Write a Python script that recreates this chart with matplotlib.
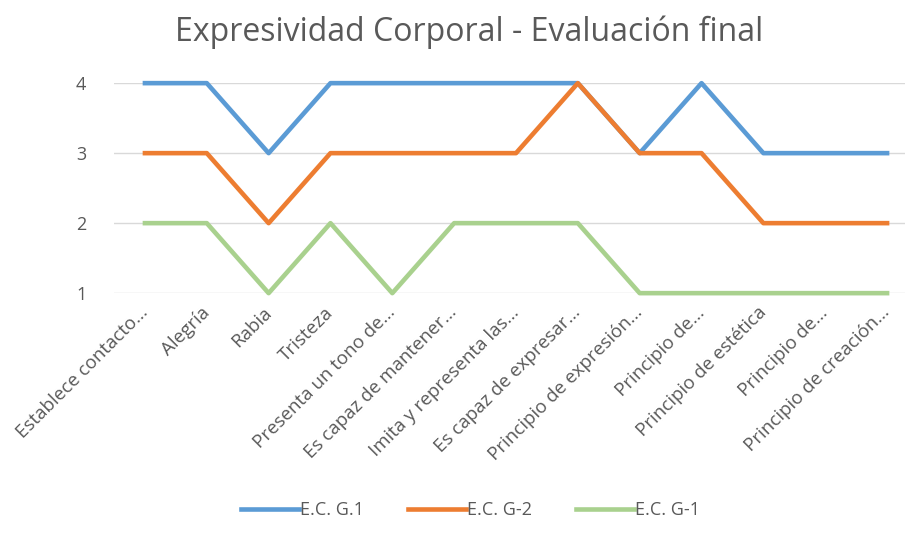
import matplotlib.pyplot as plt

categorias = ["Establece contacto...", "Alegría", "Rabia", "Tristeza",
              "Presenta un tono de...", "Es capaz de mantener...",
              "Imita y representa las...", "Es capaz de expresar...",
              "Principio de expresión...", "Principio de...",
              "Principio de estética", "Principio de...",
              "Principio de creación..."]
ec_g1 = [4, 4, 3, 4, 4, 4, 4, 4, 3, 4, 3, 3, 3]
ec_g2_guion = [3, 3, 2, 3, 3, 3, 3, 4, 3, 3, 2, 2, 2]
ec_g1_guion = [2, 2, 1, 2, 1, 2, 2, 2, 1, 1, 1, 1, 1]
yticks = [1, 2, 3, 4]

plt.rcParams['font.family'] = ['Open Sans', 'DejaVu Sans']

fig = plt.figure(figsize=(9.05, 5.33), dpi=100)
ax = fig.add_axes([0.126, 0.450, 0.874, 0.394])

x = range(len(categorias))
ax.plot(x, ec_g1, color='#5B9BD5', lw=3.3, label='E.C. G.1', clip_on=False)
ax.plot(x, ec_g2_guion, color='#ED7D31', lw=3.3, label='E.C. G-2', clip_on=False)
ax.plot(x, ec_g1_guion, color='#A9D18E', lw=3.3, label='E.C. G-1', clip_on=False)

ax.set_xlim(-0.5, 12.29)
ax.set_ylim(1, 4)
ax.set_yticks(yticks)
ax.yaxis.grid(True, color='#d9d9d9', lw=1)
ax.set_axisbelow(True)
for s in ax.spines.values():
    s.set_visible(False)
ax.tick_params(axis='both', length=0, colors='#595959')
ax.tick_params(axis='y', pad=20, labelsize=13)
ax.set_xticks(list(x))
ax.set_xticklabels(categorias, rotation=45, ha='right', va='center',
                   rotation_mode='anchor', fontsize=13.5)
ax.tick_params(axis='x', pad=12)

fig.suptitle('Expresividad Corporal - Evaluación final', x=0.518, y=0.97,
             fontsize=23, color='#595959')
fig.legend(loc='lower center', bbox_to_anchor=(0.52, -0.005), ncol=3,
           frameon=False, fontsize=13, labelcolor='#595959',
           handlelength=3.2, handletextpad=0.1, columnspacing=2.4)

fig.savefig('out.png')
